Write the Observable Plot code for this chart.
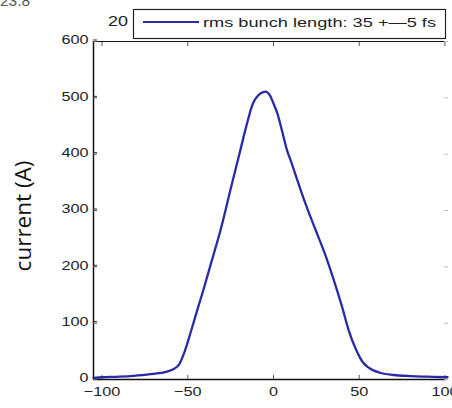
<!DOCTYPE html>
<html>
<head>
<meta charset="utf-8">
<script src="https://cdn.jsdelivr.net/npm/d3@7"></script>
<script src="https://cdn.jsdelivr.net/npm/@observablehq/plot@0.6"></script>
<style>
  html, body { margin: 0; padding: 0; background: #fff; }
  #chart { position: relative; width: 452px; height: 408px; overflow: hidden; }
</style>
</head>
<body>
<div id="chart"></div>
<script>
// time (fs)
const time = [-105, -100, -90, -80, -70, -62, -58, -55, -52, -48, -44, -41, -36, -31, -25, -20, -16, -12, -9, -6, -4.7, -2, 0, 2.3, 5, 8, 10, 13, 16, 20, 25, 30, 35, 40, 44, 48, 52, 56, 62, 70, 80, 90, 101.5];
// current (A)
const current = [3, 4, 5, 7, 10, 14, 19, 27, 48, 87, 128, 158, 211, 264, 338, 399, 448, 490, 504, 510, 511, 504, 490, 472, 441, 406, 389, 362, 335, 301, 262, 223, 178, 129, 86, 54, 31, 20, 12, 8, 6, 5, 4];
const xTicks = [-100, -50, 0, 50, 100];
const yTicks = [0, 100, 200, 300, 400, 500, 600];
const legendLabel = "rms bunch length: 35 +\u20145 fs";
const yLabel = "current (A)";

const data = time.map((t, i) => ({t, I: current[i]}));
const fmt = d => d < 0 ? "\u2212" + Math.abs(d) : String(d);

const plot = Plot.plot({
  width: 452,
  height: 408,
  marginLeft: 93,
  marginRight: 5,
  marginTop: 41,
  marginBottom: 29,
  style: {fontFamily: "Liberation Sans, Arial, sans-serif", fontSize: "13px", color: "#2a2a2a", background: "#fff"},
  x: {domain: [-105, 101.5]},
  y: {domain: [0, 600]},
  marks: [
    Plot.ruleY([0], {stroke: "#111", strokeWidth: 1.5}),
    Plot.ruleY([600], {stroke: "#111", strokeWidth: 1.2}),
    Plot.ruleX([-105], {stroke: "#111", strokeWidth: 1.5}),
    Plot.axisX(xTicks, {anchor: "bottom", tickSize: -4, tickPadding: 11, tickFormat: fmt, label: null, fontSize: 13, stroke: null, fill: "#222"}),
    Plot.axisX(xTicks, {anchor: "bottom", tickSize: -4, text: null, label: null, stroke: "#555"}),
    Plot.axisX(xTicks, {anchor: "top", tickSize: -4, text: null, label: null, stroke: "#555"}),
    Plot.axisY(yTicks, {anchor: "left", tickSize: -4, tickPadding: 9, dy: -1.5, label: null, fontSize: 13, fill: "#222"}),
    Plot.axisY(yTicks, {anchor: "left", tickSize: -4, text: null, label: null, stroke: "#555"}),
    Plot.axisY(yTicks, {anchor: "right", tickSize: -4, text: null, label: null, stroke: "#bbb"}),
    Plot.line(data, {x: "t", y: "I", stroke: "#2a2aa6", strokeWidth: 2.3, curve: "monotone-x"})
  ]
});
document.getElementById("chart").appendChild(plot);

// widen tick labels horizontally like the reference's stretched glyphs
d3.select(plot).selectAll("[aria-label='x-axis tick label'] text, [aria-label='y-axis tick label'] text").each(function() {
  const w = this.getComputedTextLength();
  if (w > 0) this.setAttribute("textLength", (w * 1.25).toFixed(1)), this.setAttribute("lengthAdjust", "spacingAndGlyphs");
});

// Extra annotations (legend, cropped title fragments, y label)
const svg = d3.select(plot);
const g = svg.append("g").attr("font-family", "Liberation Sans, Arial, sans-serif").attr("text-anchor", "start");
g.append("text").attr("x", 108).attr("y", 26).attr("font-size", 14).attr("fill", "#222")
  .attr("textLength", 20).attr("lengthAdjust", "spacingAndGlyphs").text("20");
g.append("rect").attr("x", 133.5).attr("y", 9.5).attr("width", 312).attr("height", 29)
  .attr("fill", "#fff").attr("stroke", "#222").attr("stroke-width", 1.2);
g.append("line").attr("x1", 143).attr("x2", 199).attr("y1", 22).attr("y2", 22)
  .attr("stroke", "#2a2aa6").attr("stroke-width", 2);
g.append("text").attr("x", 203).attr("y", 27).attr("font-size", 13.5).attr("fill", "#222")
  .attr("textLength", 233).attr("lengthAdjust", "spacingAndGlyphs").text(legendLabel);
g.append("text").attr("x", 0).attr("y", 6).attr("font-size", 15).attr("fill", "#555")
  .attr("textLength", 30).attr("lengthAdjust", "spacingAndGlyphs").text("23.8");
g.append("text").attr("transform", "translate(31,216) rotate(-90)").attr("text-anchor", "middle")
  .attr("font-family", "Open Sans, Liberation Sans, sans-serif")
  .attr("font-size", 22.5).attr("fill", "#111").text(yLabel);
</script>
</body>
</html>
